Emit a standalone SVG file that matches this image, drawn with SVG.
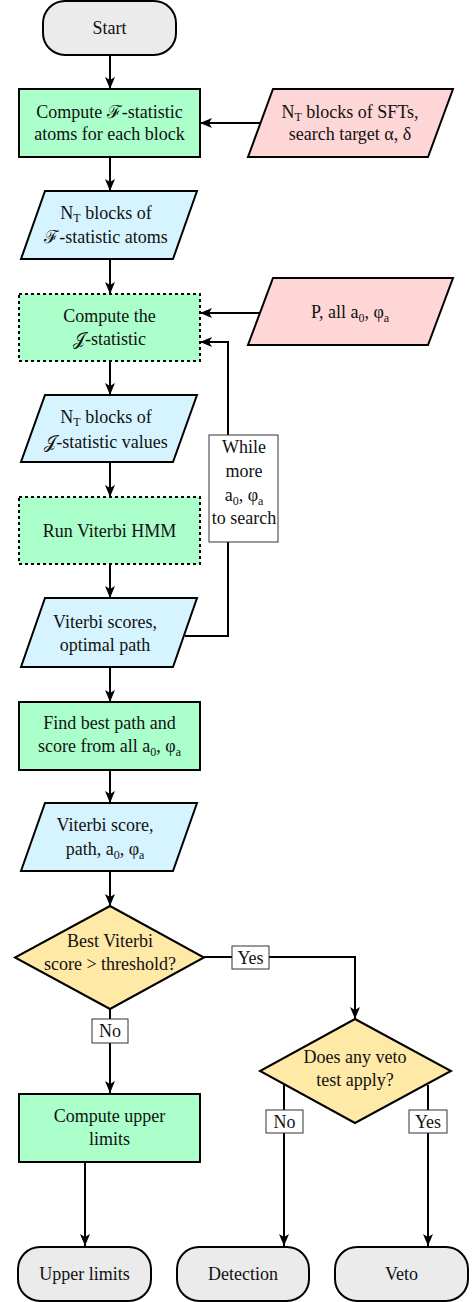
<svg xmlns="http://www.w3.org/2000/svg" width="475" height="1302" viewBox="0 0 475 1302">
<style>
text{font-family:"Liberation Serif","DejaVu Serif",serif;font-size:18px;fill:#111;text-anchor:middle}
.proc{fill:#aaffca;stroke:#000;stroke-width:2}
.dash{fill:#aaffca;stroke:#000;stroke-width:2;stroke-dasharray:3,3}
.inp{fill:#ffd6d6;stroke:#000;stroke-width:2}
.dat{fill:#d6f4ff;stroke:#000;stroke-width:2}
.dec{fill:#ffe9a6;stroke:#000;stroke-width:2}
.term{fill:#ebebeb;stroke:#000;stroke-width:2}
.lbl{fill:#fff;stroke:#333;stroke-width:1}
.con path{fill:none;stroke:#000;stroke-width:2}
.sub{font-size:12px}
</style>
<defs>
<marker id="ah" viewBox="0 0 12 10" markerWidth="12" markerHeight="10" refX="12" refY="5" orient="auto" markerUnits="userSpaceOnUse">
<path d="M0,0 L12,5 L0,10 L3,5 z" fill="#000"/>
</marker>
</defs>
<g class="con">
<path d="M110,55 V89" marker-end="url(#ah)"/>
<path d="M260,123 H200" marker-end="url(#ah)"/>
<path d="M110,157 V191" marker-end="url(#ah)"/>
<path d="M110,259 V294" marker-end="url(#ah)"/>
<path d="M260,313 H200" marker-end="url(#ah)"/>
<path d="M110,361 V395" marker-end="url(#ah)"/>
<path d="M110,462 V497" marker-end="url(#ah)"/>
<path d="M110,564 V598" marker-end="url(#ah)"/>
<path d="M185,636 H228 V342 H200" marker-end="url(#ah)"/>
<path d="M110,667 V702" marker-end="url(#ah)"/>
<path d="M110,770 V803" marker-end="url(#ah)"/>
<path d="M110,871 V906" marker-end="url(#ah)"/>
<path d="M204,957 H355 V1019" marker-end="url(#ah)"/>
<path d="M110,1009 V1093" marker-end="url(#ah)"/>
<path d="M85,1162 V1246" marker-end="url(#ah)"/>
<path d="M284,1085 V1246" marker-end="url(#ah)"/>
<path d="M428,1085 V1246" marker-end="url(#ah)"/>
<rect class="lbl" x="209" y="435" width="69" height="107"/>
<text x="244" y="453">While</text>
<text x="244" y="477">more</text>
<text x="244" y="501">a<tspan class="sub" dy="4">0</tspan><tspan dy="-4">, φ</tspan><tspan class="sub" dy="4">a</tspan></text>
<text x="244" y="524">to search</text>
<rect class="lbl" x="232" y="946" width="37" height="23"/>
<text x="250.5" y="964">Yes</text>
<rect class="lbl" x="92" y="1019" width="36" height="24"/>
<text x="110" y="1037">No</text>
<rect class="lbl" x="266" y="1110" width="37" height="23"/>
<text x="284.5" y="1128">No</text>
<rect class="lbl" x="409" y="1110" width="38" height="23"/>
<text x="428" y="1128">Yes</text>
</g>
<g id="start">
<rect class="term" x="43" y="1" width="133" height="54" rx="22"/>
<text x="109.5" y="34">Start</text>
</g>
<g id="computeF">
<rect class="proc" x="19" y="89" width="181" height="68"/>
<text x="109.5" y="118">Compute ℱ-statistic</text>
<text x="109.5" y="140">atoms for each block</text>
</g>
<g id="inputSFT">
<polygon class="inp" points="273,89 453,89 428,157 248,157"/>
<text x="350" y="118">N<tspan class="sub" dy="3">T</tspan><tspan dy="-3"> blocks of SFTs,</tspan></text>
<text x="350" y="140">search target α, δ</text>
</g>
<g id="fatoms">
<polygon class="dat" points="45,191 197,191 173,259 21,259"/>
<text x="106" y="219">N<tspan class="sub" dy="3">T</tspan><tspan dy="-3"> blocks of</tspan></text>
<text x="106" y="243">ℱ-statistic atoms</text>
</g>
<g id="computeJ">
<rect class="dash" x="19" y="294" width="181" height="67"/>
<text x="109.5" y="322">Compute the</text>
<text x="109.5" y="345">𝒥-statistic</text>
</g>
<g id="inputP">
<polygon class="inp" points="273,278 453,278 428,345 248,345"/>
<text x="350" y="318">P, all a<tspan class="sub" dy="4">0</tspan><tspan dy="-4">, φ</tspan><tspan class="sub" dy="4">a</tspan></text>
</g>
<g id="jvalues">
<polygon class="dat" points="45,395 197,395 173,462 21,462"/>
<text x="106" y="423">N<tspan class="sub" dy="3">T</tspan><tspan dy="-3"> blocks of</tspan></text>
<text x="106" y="448">𝒥-statistic values</text>
</g>
<g id="viterbi">
<rect class="dash" x="19" y="497" width="181" height="67"/>
<text x="109.5" y="537">Run Viterbi HMM</text>
</g>
<g id="scores">
<polygon class="dat" points="45,598 197,598 173,667 21,667"/>
<text x="105" y="628">Viterbi scores,</text>
<text x="105" y="651">optimal path</text>
</g>
<g id="findbest">
<rect class="proc" x="19" y="702" width="181" height="68"/>
<text x="109.5" y="729">Find best path and</text>
<text x="109.5" y="752">score from all a<tspan class="sub" dy="4">0</tspan><tspan dy="-4">, φ</tspan><tspan class="sub" dy="4">a</tspan></text>
</g>
<g id="bestscore">
<polygon class="dat" points="45,803 197,803 173,871 21,871"/>
<text x="105" y="831">Viterbi score,</text>
<text x="105" y="855">path, a<tspan class="sub" dy="4">0</tspan><tspan dy="-4">,  φ</tspan><tspan class="sub" dy="4">a</tspan></text>
</g>
<g id="threshold">
<polygon class="dec" points="110,906 204,957.5 110,1009 15,957.5"/>
<text x="110" y="947">Best Viterbi</text>
<text x="110" y="970">score &gt; threshold?</text>
</g>
<g id="veto-test">
<polygon class="dec" points="355,1019 451,1071 355,1123 260,1071"/>
<text x="355" y="1063">Does any veto</text>
<text x="355" y="1086">test apply?</text>
</g>
<g id="upperbox">
<rect class="proc" x="19" y="1094" width="181" height="68"/>
<text x="109.5" y="1122">Compute upper</text>
<text x="109.5" y="1145">limits</text>
</g>
<g id="upperlimits">
<rect class="term" x="18" y="1247" width="133" height="54" rx="22"/>
<text x="84.5" y="1280">Upper limits</text>
</g>
<g id="detection">
<rect class="term" x="177" y="1247" width="132" height="54" rx="22"/>
<text x="243" y="1280">Detection</text>
</g>
<g id="veto">
<rect class="term" x="335" y="1247" width="133" height="54" rx="22"/>
<text x="401.5" y="1280">Veto</text>
</g>
</svg>
